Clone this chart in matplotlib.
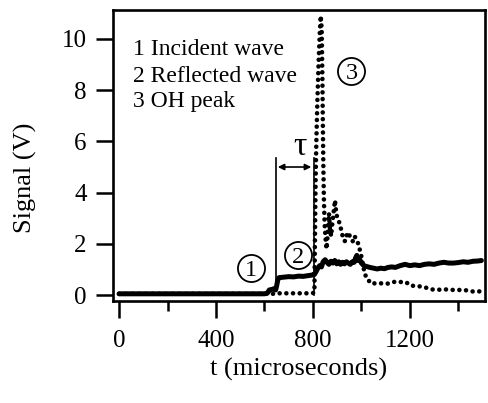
import matplotlib
matplotlib.use("Agg")
import matplotlib.pyplot as plt
from matplotlib.ticker import MultipleLocator

plt.rcParams['font.family'] = ['Liberation Serif', 'DejaVu Serif']

# Incident/reflected wave signal (solid, thick)
t_wave = [0, 100, 200, 300, 400, 500, 600, 612, 620, 630, 640, 646, 650, 655, 660,
          680, 700, 720, 740, 760, 780, 795, 805, 812, 820, 828, 835, 842, 850, 858,
          866, 874, 882, 890, 898, 906, 914, 922, 930, 938, 946, 954, 962, 970, 976,
          981, 986, 992, 1000, 1010, 1020, 1035, 1050, 1065, 1080, 1095, 1110, 1125,
          1140, 1160, 1180, 1200, 1220, 1240, 1260, 1280, 1300, 1320, 1340, 1360, 1380,
          1400, 1420, 1440, 1460, 1480, 1495]
v_wave = [0.05, 0.05, 0.05, 0.05, 0.05, 0.05, 0.05, 0.08, 0.2, 0.22, 0.25, 0.2, 0.35, 0.6, 0.68,
          0.7, 0.72, 0.71, 0.74, 0.73, 0.76, 0.78, 0.8, 0.9, 1.05, 1.15, 1.1, 1.3, 1.38, 1.28,
          1.2, 1.32, 1.25, 1.35, 1.22, 1.3, 1.2, 1.28, 1.22, 1.3, 1.25, 1.2, 1.3, 1.28, 1.45,
          1.55, 1.35, 1.4, 1.25, 1.15, 1.12, 1.08, 1.05, 1.02, 1.05, 1.03, 1.08, 1.1,
          1.08, 1.15, 1.2, 1.15, 1.18, 1.15, 1.2, 1.22, 1.2, 1.25, 1.28, 1.25, 1.25,
          1.27, 1.3, 1.28, 1.32, 1.33, 1.35]

# OH emission signal (dotted)
t_oh = [0, 640, 650, 700, 750, 790, 800, 806, 808, 811, 814, 818, 823, 828, 832, 836, 839,
        841, 843, 845, 848, 852, 856, 862, 866, 870, 875, 880, 886, 891, 896, 902, 908,
        914, 920, 926, 933, 940, 946, 952, 958, 965, 972, 979, 985, 990, 995, 1000, 1008,
        1015, 1025, 1035, 1050, 1065, 1080, 1095, 1110, 1125, 1140, 1155, 1170, 1185,
        1200, 1215, 1230, 1250, 1270, 1290, 1320, 1350, 1380, 1410, 1440, 1465, 1495]
v_oh = [0.05, 0.05, 0.07, 0.07, 0.07, 0.07, 0.08, 0.1, 2.0, 4.5, 6.0, 7.5, 9.0, 10.2, 10.9, 10.4, 8.5,
        6.5, 5.0, 3.8, 2.8, 2.2, 1.8, 2.5, 3.2, 2.6, 2.3, 2.8, 3.3, 3.7, 3.2, 2.95, 2.85,
        2.65, 2.4, 2.15, 2.1, 2.35, 2.45, 2.3, 2.15, 2.1, 2.3, 2.15, 2.05, 1.9, 1.7, 1.5, 1.1,
        0.78, 0.7, 0.47, 0.46, 0.45, 0.46, 0.44, 0.45, 0.5, 0.52, 0.5, 0.52, 0.5,
        0.38, 0.36, 0.35, 0.33, 0.28, 0.22, 0.21, 0.22, 0.2, 0.2, 0.18, 0.13, 0.15]

x_ticks = [0, 400, 800, 1200]
y_ticks = [0, 2, 4, 6, 8, 10]
legend_lines = ["1 Incident wave", "2 Reflected wave", "3 OH peak"]
t_incident = 647
t_reflected = 803

fig = plt.figure(figsize=(4.88, 4.03), dpi=100)
ax = fig.add_axes([0.2316, 0.2538, 0.7623, 0.7214])

ax.plot(t_oh, v_oh, color='black', lw=3.3, linestyle=(0, (0.01, 1.45)),
        dash_capstyle='round', zorder=3)
ax.plot(t_wave, v_wave, color='black', lw=3.6, solid_joinstyle='round',
        solid_capstyle='round', zorder=4)

# tau marker lines
ax.plot([t_incident, t_incident], [0.55, 5.36], color='black', lw=1.2, zorder=5)
ax.plot([t_reflected, t_reflected], [0.0, 5.36], color='black', lw=1.2, zorder=5)
ax.annotate('', xy=(655, 5.0), xytext=(793, 5.0),
            arrowprops=dict(arrowstyle='<|-|>', lw=1.2, color='black',
                            mutation_scale=9, shrinkA=0, shrinkB=0))
ax.text(746, 5.45, 'τ', fontsize=24, ha='center', va='baseline')

# circled labels
for num, (tx, vy) in zip(['1', '2', '3'], [(543, 1.06), (739, 1.56), (959, 8.75)]):
    ax.plot([tx], [vy], marker='o', markersize=19.5, markerfacecolor='white',
            markeredgecolor='black', markeredgewidth=1.3, zorder=6)
    ax.text(tx, vy, num, fontsize=17.5, ha='center', va='center_baseline', zorder=7)

for i, line in enumerate(legend_lines):
    ax.text(58, [9.375, 8.33, 7.34][i], line, fontsize=17, ha='left', va='baseline')

ax.set_xlim(-25, 1510)
ax.set_ylim(-0.22, 11.13)
ax.set_xticks(x_ticks)
ax.set_yticks(y_ticks)
ax.xaxis.set_minor_locator(MultipleLocator(200))
ax.tick_params(axis='both', which='major', direction='out', length=12.5, width=1.8,
               labelsize=18)
ax.tick_params(axis='x', which='major', pad=8.5)
ax.tick_params(axis='y', which='major', pad=6.5)
ax.tick_params(axis='x', which='minor', direction='out', length=7.2, width=1.8)
for s in ax.spines.values():
    s.set_linewidth(1.9)

ax.set_xlabel('t (microseconds)', fontsize=19, labelpad=4)
ax.set_ylabel('Signal (V)', fontsize=19)
ax.yaxis.set_label_coords(-0.205, 0.422)

fig.savefig('out.png', dpi=100)
